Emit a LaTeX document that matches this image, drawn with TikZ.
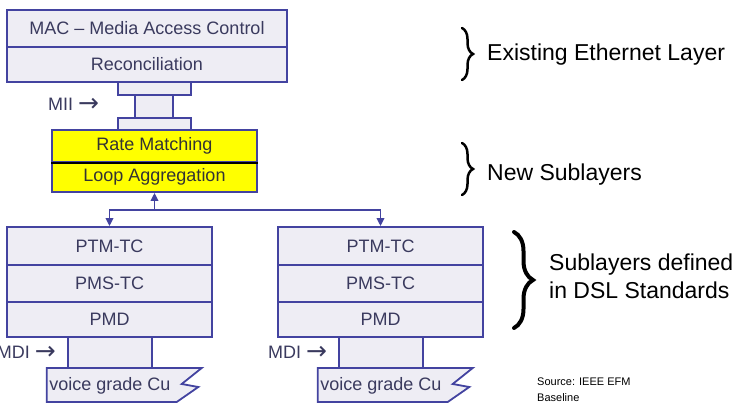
\documentclass[tikz,border=0pt]{standalone}
\usepackage{fontspec}
\setmainfont{Liberation Sans}
\newfontfamily\arrowfont{DejaVu Sans}
\usetikzlibrary{arrows.meta,decorations.pathreplacing}

\definecolor{layerfill}{HTML}{EEEDF4}
\definecolor{layerline}{HTML}{4343A0}
\definecolor{layertext}{HTML}{3A3A5E}
\definecolor{newfill}{HTML}{FFFF00}

\newcommand{\ifarrow}{{\arrowfont\fontsize{25}{25}\selectfont\raisebox{-1pt}{→}}}

\tikzset{
  layer/.style={draw=layerline, fill=layerfill, line width=1.8pt, text=layertext,
    font=\fontsize{18}{20}\selectfont, inner sep=0pt},
  newlayer/.style={layer, fill=newfill, text=black!80},
  pipe/.style={draw=layerline, fill=layerfill, line width=1.8pt},
  wire/.style={draw=layerline, line width=1.8pt, -{Triangle[length=8pt,width=7.5pt]}},
  bracket/.style={decorate, decoration={brace,amplitude=#1}, line width=2.5pt, line cap=round},
  note/.style={font=\fontsize{23}{28}\selectfont, anchor=west, align=left, inner sep=0pt},
  iface/.style={text=layertext, font=\fontsize{18}{20}\selectfont, inner sep=0pt},
}

\begin{document}
\begin{tikzpicture}[x=1pt,y=-1pt]
\useasboundingbox (0,0) rectangle (737,404);

% Conectores MII y MDI
\filldraw[pipe] (118,82) rectangle (191,95);
\filldraw[pipe] (135,95) rectangle (173,118);
\filldraw[pipe] (118,118) rectangle (191,130);
\filldraw[pipe] (68,337) rectangle (152,368);
\filldraw[pipe] (339,337) rectangle (423,368);

% Capa Ethernet existente
\node[layer, minimum width=280pt, minimum height=37pt] (mac) at (147,28.5) {MAC – Media Access Control};
\node[layer, minimum width=280pt, minimum height=35pt] (rec) at (147,64.5) {Reconciliation};

% Subcapas nuevas
\node[newlayer, minimum width=205pt, minimum height=32pt] (rate) at (154.5,146) {Rate Matching};
\node[newlayer, minimum width=205pt, minimum height=30pt] (loop) at (154.5,177) {Loop Aggregation};
\draw[black, line width=1.8pt] (rate.south west) -- (rate.south east);

% Pilas DSL
\node[layer, minimum width=205pt, minimum height=38pt] (ptmL) at (109.5,246) {PTM-TC};
\node[layer, minimum width=205pt, minimum height=37pt] (pmsL) at (109.5,283.5) {PMS-TC};
\node[layer, minimum width=205pt, minimum height=35pt] (pmdL) at (109.5,319.5) {PMD};
\node[layer, minimum width=205pt, minimum height=38pt] (ptmR) at (380.5,246) {PTM-TC};
\node[layer, minimum width=205pt, minimum height=37pt] (pmsR) at (380.5,283.5) {PMS-TC};
\node[layer, minimum width=205pt, minimum height=35pt] (pmdR) at (380.5,319.5) {PMD};

% Cobre
\filldraw[pipe] (46.7,368) -- (201.7,368) -- (181.7,384) -- (198.3,387) -- (176.7,402) -- (46.7,402) -- cycle;
\filldraw[pipe] (317.7,368) -- (472.7,368) -- (452.7,384) -- (469.3,387) -- (447.7,402) -- (317.7,402) -- cycle;
\node[iface] (cuL) at (110,386) {voice grade Cu};
\node[iface] (cuR) at (381,386) {voice grade Cu};

% Flechas
\coordinate (split) at (154.5,210);
\draw[wire] (split) -- (loop.south);
\draw[wire] (split) -| (ptmL.north);
\draw[wire] (split) -| (ptmR.north);

% Interfaces
\node[iface, anchor=west] (mii) at (48,105) {MII \ifarrow};
\node[iface, anchor=east] (mdiL) at (56,353) {MDI \ifarrow};
\node[iface, anchor=west] (mdiR) at (268,353) {MDI \ifarrow};

% Llaves y etiquetas
\draw[bracket=11pt] (462,28) -- (462,80);
\draw[bracket=11pt] (462,143) -- (462,195);
\draw[bracket=19pt, line width=4pt] (514,232) -- (514,328);
\node[note] (eth) at (487,55) {Existing Ethernet Layer};
\node[note] (new) at (487,175) {New Sublayers};
\node[note] (dsl) at (549,276) {Sublayers defined\\in DSL Standards};
\node[font=\fontsize{11}{16}\selectfont, anchor=west, align=left, inner sep=0pt] (src) at (537,389.5) {Source: IEEE EFM\\Baseline};

\end{tikzpicture}
\end{document}
